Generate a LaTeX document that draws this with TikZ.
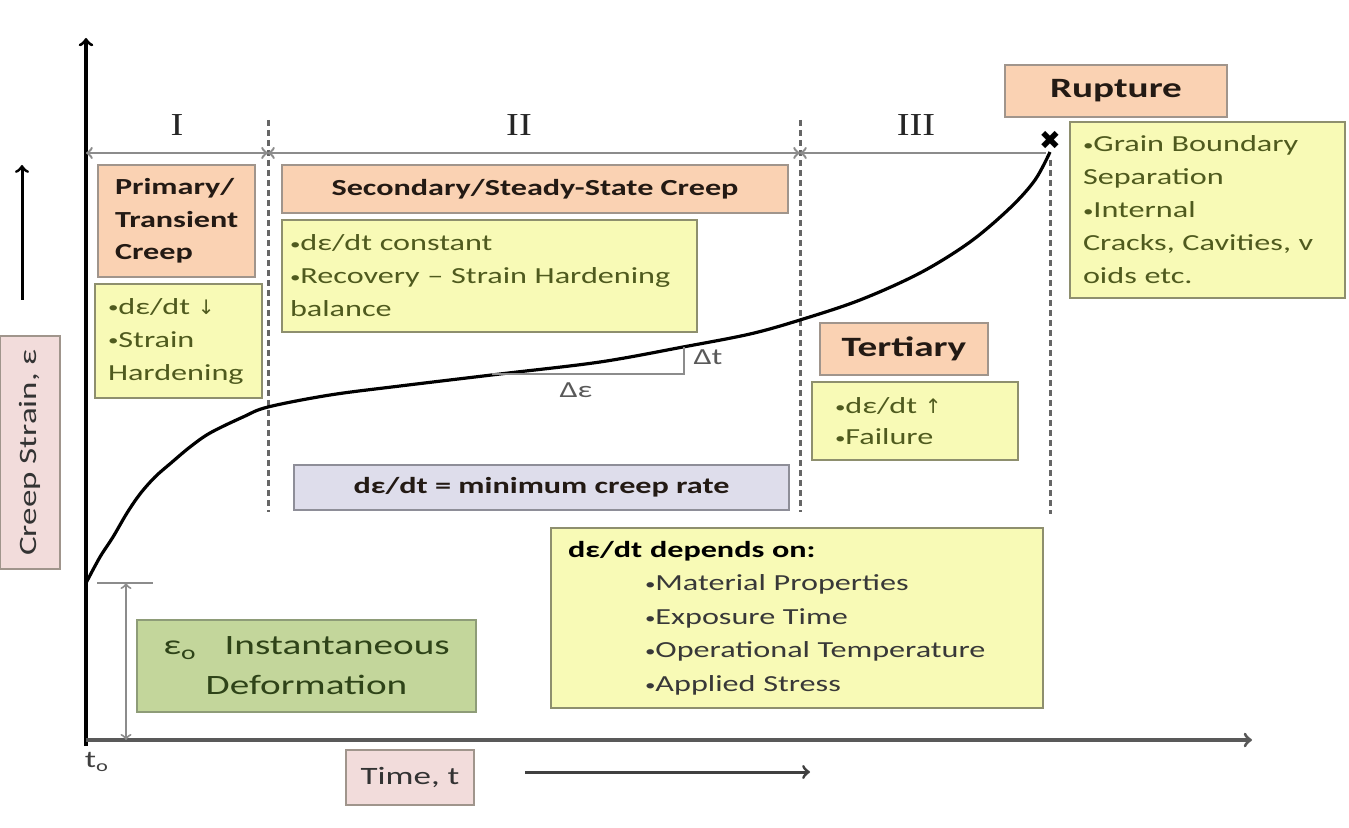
\documentclass[tikz,border=0pt]{standalone}
\usepackage{fontspec}
\usepackage{tikz}
\usepackage{xcolor}
\setmainfont{Carlito}[FakeStretch=1.4]
\newfontfamily\arrowfont{DejaVu Sans}
\newfontfamily\numfont{Liberation Serif}[FakeStretch=1.2]
\newcommand\bul{{\fontsize{7.5}{7.5}\selectfont\raisebox{0.6pt}{•}}}

\definecolor{boxorange}{HTML}{FAD2B3}
\definecolor{boxyellow}{HTML}{F8FAB6}
\definecolor{boxgreen}{HTML}{C3D69B}
\definecolor{boxlilac}{HTML}{DEDDEB}
\definecolor{boxpink}{HTML}{F2DCDB}
\definecolor{edgeorange}{HTML}{A0958C}
\definecolor{edgeolive}{HTML}{8E8F6E}
\definecolor{edgegreen}{HTML}{8E9C78}
\definecolor{edgegray}{HTML}{8E8E98}
\definecolor{noteolive}{HTML}{4F5A1E}
\definecolor{greentext}{HTML}{2E4318}
\definecolor{titletext}{HTML}{231A14}

\tikzset{
	panel/.style={draw=#1, line width=1pt, inner ysep=0pt, inner xsep=6.5pt},
	stagebox/.style={panel=edgeorange, fill=boxorange, text=titletext, font=\bfseries\fontsize{11.5}{16.2}\selectfont},
	notebox/.style={panel=edgeolive, fill=boxyellow, text=noteolive, align=left, font=\fontsize{11.5}{16.5}\selectfont},
	axisbox/.style={panel=edgeorange, fill=boxpink, text=black!80, font=\fontsize{12.5}{15}\selectfont},
	phase/.style={font=\numfont\fontsize{16}{18}\selectfont, text=black!85},
	dimline/.style={black!45, line width=1.2pt},
	bound/.style={black!60, densely dashed, line width=1.5pt},
	creep/.style={black, line width=1.6pt},
}

\begin{document}
\begin{tikzpicture}[x=0.5pt, y=-0.5pt]
	\useasboundingbox (0,0) rectangle (1349,828);

	% axes
	\coordinate (ybot) at (86,746);
	\coordinate (ytip) at (86,38);
	\coordinate (O) at (86,740);
	\coordinate (xtip) at (1252,740);
	\draw[->, line width=1.6pt] (ybot) -> (ytip);
	\draw[->, line width=1.6pt, black!65] (O) -> (xtip);

	% axis labels
	\node[axisbox, rotate=90, minimum width=112.5pt, minimum height=30pt] (ylab) at (30,452.5) {Creep Strain, ε};
	\coordinate (yup0) at (22,300);
	\coordinate (yup1) at (22,165);
	\draw[->, line width=1.5pt] (yup0) -> (yup1);
	\node[axisbox, minimum width=64pt, minimum height=27.5pt] (xlab) at (410,777) {Time, t};
	\coordinate (xr0) at (525,772);
	\coordinate (xr1) at (810,772);
	\draw[->, line width=1.5pt, black!75] (xr0) -> (xr1);
	\node[text=black!75, font=\fontsize{12}{14}\selectfont] (t0) at (97,762) {t\textsubscript{o}};

	% stage boundaries
	\foreach \bx/\btop/\bbot in {268/120/512, 800/120/512, 1050/160/514}
	{
		\draw[bound] (\bx,\btop) -- (\bx,\bbot);
	}
	\coordinate (d0) at (86,153);
	\coordinate (d1) at (268,153);
	\coordinate (d2) at (800,153);
	\coordinate (d3) at (1046,153);
	\draw[<->, dimline] (d0) -> (d1);
	\draw[<->, dimline] (d1) -> (d2);
	\draw[<-, dimline] (d2) -> (d3);
	\node[phase] (ph1) at (177,125) {I};
	\node[phase] (ph2) at (519,125) {II};
	\node[phase] (ph3) at (916,125) {III};

	% creep curve
	\coordinate (eps0) at (86,583);
	\coordinate (rupx) at (1050,152);
	\draw[creep] plot[smooth, tension=0.55] coordinates {(eps0) (100,557) (113,537) (127,513) (140,494) (155,477) (171,463) (190,447) (210,433) (243,417) (268,407) (330,395) (400,386) (500,374) (600,362) (683,347) (750,334) (800,320) (860,300) (920,273) (970,242) (1010,208) (1035,180) (rupx)};
	\node[font=\arrowfont\fontsize{13}{13}\selectfont] (rupmark) at (1050,140) {✖};

	% instantaneous strain
	\coordinate (e0a) at (97,583);
	\coordinate (e0b) at (153,583);
	\coordinate (e0top) at (126,583);
	\coordinate (e0bot) at (126,740);
	\draw[dimline, line width=1pt] (e0a) -- (e0b);
	\draw[<->, dimline, line width=1pt] (e0top) -> (e0bot);

	% slope triangle
	\coordinate (tri1) at (492,374);
	\coordinate (tri2) at (684,374);
	\coordinate (tri3) at (684,347);
	\draw[black!45, line width=1.2pt] (tri1) -- (tri2) -- (tri3);
	\node[text=black!65, font=\fontsize{11.5}{13}\selectfont] (dt) at (708,357) {Δt};
	\node[text=black!65, font=\fontsize{11.5}{13}\selectfont] (deps) at (576,390) {Δε};

	% stage boxes
	\node[stagebox, align=left, minimum width=78.5pt, minimum height=56pt, text width=61.5pt, inner xsep=8.5pt] (prim) at (176.5,221) {Primary/\\Transient\\Creep};
	\node[notebox, minimum height=57pt, text width=70.5pt] (primnote) at (178.5,341) {\bul dε/dt {\arrowfont\fontsize{10}{10}\selectfont ↓}\\\bul Strain\\Hardening};
	\node[stagebox, minimum width=253pt, minimum height=24pt] (sec) at (535,189) {Secondary/Steady-State Creep};
	\node[notebox, minimum height=56pt, text width=199.5pt, inner xsep=4pt] (secnote) at (489.5,276) {\bul dε/dt constant\\\bul Recovery – Strain Hardening\\balance};
	\node[stagebox, font=\bfseries\fontsize{14}{16}\selectfont, minimum width=84pt, minimum height=26pt] (ter) at (904,349) {Tertiary};
	\node[notebox, font=\fontsize{11.5}{15.5}\selectfont, minimum height=39pt, text width=80pt, inner xsep=11.5pt] (ternote) at (915,421) {\bul dε/dt {\arrowfont\fontsize{10}{10}\selectfont ↑}\\\bul Failure};
	\node[stagebox, font=\bfseries\fontsize{14}{16}\selectfont, minimum width=111pt, minimum height=26pt] (rup) at (1116,91) {Rupture};
	\node[notebox, minimum height=88pt, text width=124.5pt] (rupnote) at (1207.5,210) {\bul Grain Boundary\\Separation\\\bul Internal\\Cracks, Cavities, v\\oids etc.};

	% rate boxes
	\node[panel=edgegray, fill=boxlilac, text=titletext, font=\bfseries\fontsize{11.5}{14}\selectfont, minimum width=247.5pt, minimum height=22.5pt] (minrate) at (541.5,487.5) {dε/dt = minimum creep rate};
	\node[notebox, text=black!78, font=\fontsize{11.5}{16.75}\selectfont, minimum height=90pt, text width=229pt, inner xsep=8.5pt] (dep) at (797,618) {{\bfseries\color{black}dε/dt depends on:}\\
		\hspace*{38.5pt}\bul Material Properties\\
		\hspace*{38.5pt}\bul Exposure Time\\
		\hspace*{38.5pt}\bul Operational Temperature\\
		\hspace*{38.5pt}\bul Applied Stress};
	\node[panel=edgegreen, fill=boxgreen, text=greentext, align=center, font=\fontsize{14}{20}\selectfont, minimum width=169.5pt, minimum height=46pt] (inst) at (306.5,666) {ε\textsubscript{o}\quad Instantaneous\\Deformation};
\end{tikzpicture}
\end{document}
